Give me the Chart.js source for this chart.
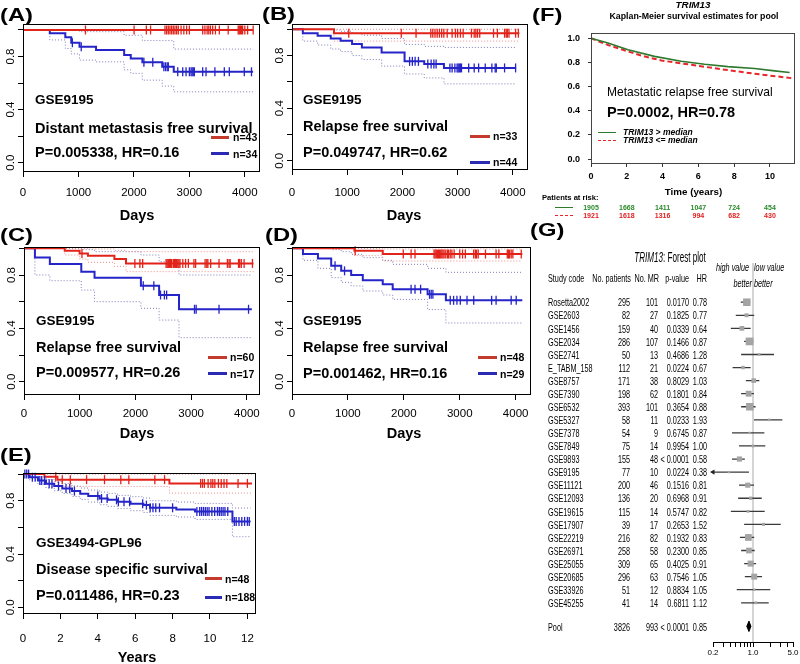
<!DOCTYPE html>
<html><head><meta charset="utf-8">
<script src="https://cdn.jsdelivr.net/npm/chart.js@4.4.1/dist/chart.umd.min.js"></script>
<style>
html,body{margin:0;padding:0;background:#fff;}
#wrap{position:relative;width:800px;height:664px;overflow:hidden;background:#fff;}
#wrap canvas{position:absolute;}
#txt{position:absolute;left:0;top:0;width:800px;height:664px;pointer-events:none;z-index:10;}
#txt div{position:absolute;white-space:nowrap;}
</style></head>
<body><div id="wrap"><div id="txt"></div></div>
<script>
// ================= DATA =================
const dayTicks = [0, 1000, 2000, 3000, 4000];
const yearTicksE = [0, 2, 4, 6, 8, 10, 12];
const survTicks = [0, 0.2, 0.4, 0.6, 0.8, 1.0];
const survLabelTicks = [0, 0.4, 0.8];

// Panel A (days)
const A_red_time  = [0, 4150];
const A_red_surv  = [1, 1];
const A_red_upper = [1, 1];
const A_red_lower = [1, 1];
const A_red_cens  = [1127, 2003, 2224, 2300, 2560, 2590, 2620, 2650, 2680, 2710, 2740, 2770, 2800, 2850, 2900, 2950, 3000, 3240, 3280, 3320, 3350, 3380, 3420, 3470, 3540, 3700, 3880, 3900, 3920, 3940, 3960, 4000, 4050, 4150];
const A_blue_time  = [0, 483, 763, 870, 1019, 1317, 1824, 1943, 2152, 2510, 2718, 4149];
const A_blue_surv  = [1, 0.975, 0.945, 0.904, 0.874, 0.849, 0.811, 0.786, 0.756, 0.723, 0.685, 0.685];
const A_blue_upper = [1, 1, 1, 1, 0.987, 0.987, 0.96, 0.96, 0.92, 0.92, 0.856, 0.856];
const A_blue_lower = [1, 0.925, 0.86, 0.82, 0.773, 0.76, 0.70, 0.673, 0.622, 0.577, 0.534, 0.534];
const A_blue_cens  = [890, 1050, 2180, 2340, 2540, 2570, 2600, 2620, 2790, 2880, 2940, 3000, 3030, 3050, 3070, 3090, 3240, 3300, 3460, 3630, 3720, 3990, 4120];

// Panel B (days)
const B_red_time  = [0, 761, 4119];
const B_red_surv  = [1, 0.97, 0.97];
const B_red_upper = [1, 1, 1];
const B_red_lower = [1, 0.91, 0.91];
const B_red_cens  = [1028, 1979, 2247, 2514, 2550, 2590, 2630, 2670, 2710, 2750, 2811, 2900, 2960, 3000, 3050, 3100, 3250, 3300, 3330, 3360, 3400, 3650, 3720, 3850, 3880, 3900, 3930, 4050, 4100];
const B_blue_time  = [0, 196, 464, 701, 880, 1088, 1266, 1623, 2039, 2395, 2752, 4059];
const B_blue_surv  = [1, 0.97, 0.95, 0.93, 0.912, 0.887, 0.862, 0.824, 0.756, 0.736, 0.706, 0.706];
const B_blue_upper = [1, 1, 1, 0.995, 0.985, 0.97, 0.955, 0.93, 0.885, 0.87, 0.862, 0.862];
const B_blue_lower = [1, 0.91, 0.88, 0.85, 0.83, 0.80, 0.77, 0.72, 0.66, 0.63, 0.585, 0.585];
const B_blue_cens  = [2130, 2180, 2230, 2290, 2460, 2520, 2570, 2610, 2860, 2900, 2950, 2990, 3010, 3030, 3050, 3070, 3200, 3300, 3380, 3500, 3620, 3680, 3700, 3850, 4050];

// Panel C (days)
const C_red_time  = [0, 731, 998, 1147, 1623, 1831, 4119];
const C_red_surv  = [1, 0.982, 0.962, 0.945, 0.92, 0.887, 0.887];
const C_red_upper = [1, 1, 1, 0.995, 0.985, 0.975, 0.975];
const C_red_lower = [1, 0.95, 0.92, 0.895, 0.865, 0.825, 0.825];
const C_red_cens  = [1040, 1990, 2080, 2130, 2550, 2570, 2590, 2610, 2630, 2650, 2680, 2700, 2720, 2740, 2760, 2780, 2800, 2850, 2900, 2950, 3050, 3080, 3250, 3280, 3300, 3350, 3500, 3650, 3680, 3700, 3850, 3870, 3900, 3950, 4100];
const C_blue_time  = [0, 196, 464, 1028, 1266, 2098, 2425, 2782, 4089];
const C_blue_surv  = [1, 0.932, 0.882, 0.825, 0.78, 0.72, 0.65, 0.543, 0.543];
const C_blue_upper = [1, 1, 1, 0.99, 0.975, 0.95, 0.90, 0.80, 0.80];
const C_blue_lower = [1, 0.80, 0.757, 0.687, 0.60, 0.55, 0.462, 0.33, 0.33];
const C_blue_cens  = [2140, 2330, 2450, 2520, 2560, 3060, 3090, 3500, 4030];

// Panel D (days)
const D_red_time  = [0, 1117, 1623, 4120];
const D_red_surv  = [1, 0.982, 0.957, 0.957];
const D_red_upper = [1, 1, 0.995, 0.995];
const D_red_lower = [1, 0.945, 0.905, 0.905];
const D_red_cens  = [1130, 1990, 2130, 2200, 2540, 2560, 2580, 2600, 2620, 2640, 2660, 2680, 2700, 2720, 2750, 2780, 2800, 2830, 2860, 2900, 3000, 3050, 3100, 3250, 3280, 3300, 3330, 3460, 3650, 3700, 3850, 3870, 3890, 3920, 3950, 4100];
const D_blue_time  = [0, 196, 464, 701, 880, 1058, 1266, 1623, 1801, 2425, 2752, 4119];
const D_blue_surv  = [1, 0.957, 0.924, 0.869, 0.831, 0.80, 0.76, 0.73, 0.693, 0.655, 0.61, 0.61];
const D_blue_upper = [1, 1, 1, 0.99, 0.975, 0.955, 0.93, 0.91, 0.88, 0.85, 0.82, 0.82];
const D_blue_lower = [1, 0.91, 0.85, 0.78, 0.745, 0.718, 0.68, 0.65, 0.617, 0.541, 0.44, 0.44];
const D_blue_cens  = [770, 940, 2130, 2200, 2300, 2460, 2490, 2520, 2830, 2890, 2950, 3010, 3130, 3250, 3570, 3650, 3920, 4010];

// Panel E (years)
const E_red_time  = [0, 1.15, 1.84, 7.83, 12.25];
const E_red_surv  = [1, 0.98, 0.958, 0.93, 0.93];
const E_red_upper = [1, 1, 1, 1, 1];
const E_red_lower = [1, 0.945, 0.907, 0.857, 0.857];
const E_red_cens  = [1.75, 2.1, 2.53, 3.4, 4.36, 5.23, 5.66, 7.05, 7.57, 9.5, 9.6, 9.7, 9.9, 10.05, 10.15, 10.26, 10.45, 10.6, 10.75, 10.9, 11.5, 12.0];
const E_blue_time  = [0, 0.36, 0.8, 1.23, 1.67, 2.1, 2.62, 3.06, 3.49, 4.1, 4.53, 5.05, 5.75, 6.44, 6.79, 8.2, 9.2, 11.2, 12.17];
const E_blue_surv  = [1, 0.977, 0.952, 0.927, 0.91, 0.892, 0.872, 0.852, 0.835, 0.817, 0.807, 0.792, 0.777, 0.767, 0.747, 0.735, 0.72, 0.645, 0.645];
const E_blue_upper = [1, 1, 0.98, 0.96, 0.945, 0.93, 0.91, 0.895, 0.88, 0.865, 0.855, 0.84, 0.83, 0.82, 0.80, 0.79, 0.78, 0.745, 0.745];
const E_blue_lower = [1, 0.955, 0.925, 0.895, 0.875, 0.855, 0.832, 0.81, 0.79, 0.77, 0.758, 0.742, 0.725, 0.712, 0.69, 0.678, 0.66, 0.53, 0.53];
const E_blue_cens  = [0.1, 0.2, 0.3, 0.5, 0.65, 0.9, 1.0, 1.15, 1.4, 1.55, 1.9, 2.3, 2.5, 2.75, 4.0, 4.2, 4.5, 5.0, 5.1, 5.4, 5.7, 6.4, 6.6, 6.8, 6.95, 7.1, 7.3, 8.0, 9.3, 9.45, 9.55, 9.65, 9.75, 9.85, 9.95, 10.1, 10.25, 10.4, 10.5, 10.6, 10.7, 10.8, 10.95, 11.3, 11.4, 11.55, 11.7, 11.85, 12.0, 12.1];

// Panel F (years, pooled)
const F_xTicks = [0, 2, 4, 6, 8, 10];
const F_green_time = [0, 0.95, 2.07, 3.55, 5.04, 6.35, 7.65, 9.14, 10.26, 11.1];
const F_green_surv = [1, 0.96, 0.904, 0.85, 0.81, 0.785, 0.765, 0.75, 0.73, 0.717];
const F_red_time   = [0, 0.95, 1.69, 2.81, 3.93, 5.42, 6.9, 8.2, 9.7, 11.2];
const F_red_surv   = [1, 0.944, 0.909, 0.856, 0.816, 0.784, 0.752, 0.725, 0.696, 0.67];
const F_riskGreen  = [1905, 1668, 1411, 1047, 724, 454];
const F_riskRed    = [1921, 1618, 1316, 994, 682, 430];

// Panel G (forest plot)
const fpStudy    = ['Rosetta2002','GSE2603','GSE1456','GSE2034','GSE2741','E_TABM_158','GSE8757','GSE7390','GSE6532','GSE5327','GSE7378','GSE7849','GSE9893','GSE9195','GSE11121','GSE12093','GSE19615','GSE17907','GSE22219','GSE26971','GSE25055','GSE20685','GSE33926','GSE45255'];
const fpPatients = [295, 82, 159, 286, 50, 112, 171, 198, 393, 58, 54, 75, 155, 77, 200, 136, 115, 39, 216, 258, 309, 296, 51, 41];
const fpMR       = [101, 27, 40, 107, 13, 21, 38, 62, 101, 11, 9, 14, 48, 10, 46, 20, 14, 17, 82, 58, 65, 63, 12, 14];
const fpP        = ['0.0170','0.1825','0.0339','0.1466','0.4686','0.0224','0.8029','0.1801','0.3654','0.0233','0.6745','0.9954','< 0.0001','0.0224','0.1516','0.6968','0.5747','0.2653','0.1932','0.2300','0.4025','0.7546','0.8834','0.6811'];
const fpHR       = [0.78, 0.77, 0.64, 0.87, 1.28, 0.67, 1.03, 0.84, 0.88, 1.93, 0.87, 1.00, 0.58, 0.38, 0.81, 0.91, 0.82, 1.52, 0.83, 0.85, 0.91, 1.05, 1.05, 1.12];
const fpLo       = [0.61, 0.50, 0.41, 0.70, 0.62, 0.44, 0.75, 0.62, 0.62, 1.04, 0.43, 0.57, 0.43, 0.15, 0.57, 0.55, 0.41, 0.70, 0.59, 0.62, 0.70, 0.72, 0.52, 0.62];
const fpHi       = [0.89, 1.05, 0.91, 1.01, 2.33, 0.91, 1.29, 1.04, 1.11, 3.26, 1.58, 1.64, 0.72, 0.85, 1.04, 1.42, 1.60, 3.05, 1.05, 1.07, 1.13, 1.44, 2.00, 1.88];
const fpPool     = {patients: 3826, mr: 993, p: '< 0.0001', hr: 0.85, lo: 0.78, hi: 0.92};
const fpTicks    = [0.2, 0.3, 0.4, 0.5, 0.6, 0.7, 0.8, 0.9, 1, 2, 3, 4, 5];
const fpTickLabels = {0.2: '0.2', 1: '1.0', 5: '5.0'};

// ================= HELPERS =================
const FONT = "'Liberation Sans', Arial, Helvetica, sans-serif";
function hasFont(f) {
  const c = document.createElement('canvas').getContext('2d');
  const s = 'abcdefghij 0123456789';
  c.font = '40px monospace'; const a = c.measureText(s).width;
  c.font = "40px '" + f + "', monospace"; const b = c.measureText(s).width;
  return Math.abs(a - b) > 0.5;
}
const NARROW = hasFont('Liberation Sans Narrow');
const NFAM = NARROW ? "'Liberation Sans Narrow', 'Liberation Sans', Arial, sans-serif" : FONT;
const NW = NARROW ? 0.82 : 1;
Chart.defaults.font.family = FONT;

const RED = '#e2231a', BLUE = '#2424c8', RED_CI = '#ee8a8a', BLUE_CI = '#7c7cb8';
const RED_LEG = '#c43a2c', BLUE_LEG = '#2a2ab4';

const wrap = document.getElementById('wrap');
const layer = document.getElementById('txt');

function T(x, y, s, o = {}) {
  const size = o.size || 12;
  const d = document.createElement('div');
  if (o.html) d.innerHTML = s; else d.textContent = s;
  let sx = o.sx || 1;
  if (o.narrow) sx = sx / NW;
  const al = o.align || 'left';
  d.style.fontFamily = o.narrow ? NFAM : FONT;
  d.style.fontSize = size + 'px';
  d.style.lineHeight = size + 'px';
  d.style.fontWeight = o.bold ? 'bold' : 'normal';
  d.style.fontStyle = o.italic ? 'italic' : 'normal';
  d.style.color = o.color || '#000';
  d.style.left = x + 'px';
  d.style.top = (y - 0.8465 * size) + 'px';
  const pre = al === 'right' ? 'translateX(-100%) ' : al === 'center' ? 'translateX(-50%) ' : '';
  d.style.transformOrigin = al === 'right' ? '100% 50%' : al === 'center' ? '50% 50%' : '0 50%';
  d.style.transform = pre + 'scaleX(' + sx + ')';
  layer.appendChild(d);
}
function L(x1, x2, y, color, w, dash) {
  const d = document.createElement('div');
  d.style.cssText = 'position:absolute;left:' + x1 + 'px;top:' + (y - w / 2) + 'px;width:' + (x2 - x1) + 'px;height:0;border-top:' + w + 'px ' + (dash ? 'dashed' : 'solid') + ' ' + color + ';';
  layer.appendChild(d);
}
function mkCanvas(l, t, w, h) {
  const c = document.createElement('canvas');
  c.width = w; c.height = h;
  c.style.left = l + 'px'; c.style.top = t + 'px';
  c.style.width = w + 'px'; c.style.height = h + 'px';
  wrap.insertBefore(c, layer);
  return c;
}
const xy = (xs, ys) => xs.map((x, i) => ({x: x, y: ys[i]}));
function stepAt(times, surv, t) {
  let v = surv[0];
  for (let i = 0; i < times.length; i++) if (times[i] <= t) v = surv[i];
  return v;
}

const boxPlugin = {
  id: 'box',
  afterDraw(ch, args, opts) {
    const a = ch.chartArea, c = ch.ctx;
    c.save();
    c.strokeStyle = opts.color || '#000';
    c.lineWidth = 1;
    c.strokeRect(Math.round(a.left) + 0.5, Math.round(a.top) + 0.5, Math.round(a.right - a.left) - 1, Math.round(a.bottom - a.top) - 1);
    if (opts.yLabels) {
      c.fillStyle = '#000';
      c.font = (NARROW ? '12.5px ' : '11.5px ') + NFAM;
      c.textAlign = 'center'; c.textBaseline = 'middle';
      for (const v of opts.yLabels) {
        const y = ch.scales.y.getPixelForValue(v);
        c.save(); c.translate(a.left - 12, y); c.rotate(-Math.PI / 2);
        c.fillText(v.toFixed(1), 0, 0); c.restore();
      }
    }
    c.restore();
  }
};

function kmPanel(p) {
  const [bl, bt, br, bb] = p.box;
  const cl = bl - 24, ct = bt - 8, cr = br + 5, cb = bb + 42;
  const W = cr - cl, H = cb - ct;
  const padT = bt - ct, padR = cr - br, padL = bl - cl, padB = cb - bb;
  const cv = mkCanvas(cl, ct, W, H);
  const ds = [];
  p.groups.forEach(g => ds.push({
    data: g.cens.map(t => ({x: t, y: stepAt(g.time, g.surv, t)})),
    showLine: false, pointStyle: 'line', pointRotation: 90, pointRadius: 4.5,
    pointBorderWidth: 1.3, pointBorderColor: g.color, pointBackgroundColor: g.color, clip: false
  }));
  p.groups.forEach(g => ds.push({
    data: xy(g.time, g.surv), stepped: true, borderColor: g.color, borderWidth: 2,
    pointRadius: 0, fill: false, clip: 3
  }));
  p.groups.forEach(g => {
    ds.push({data: xy(g.time, g.upper), stepped: true, borderColor: g.ci, borderWidth: 1, borderDash: [1, 2], pointRadius: 0, fill: false});
    ds.push({data: xy(g.time, g.lower), stepped: true, borderColor: g.ci, borderWidth: 1, borderDash: [1, 2], pointRadius: 0, fill: false});
  });
  const tickFont = {family: NFAM, size: NARROW ? 12.5 : 11.5};
  return new Chart(cv, {
    type: 'line',
    data: {datasets: ds},
    options: {
      responsive: false, animation: false, events: [], devicePixelRatio: 1,
      layout: {padding: {left: 0, top: padT, right: padR, bottom: 0}},
      plugins: {legend: {display: false}, tooltip: {enabled: false}, box: {yLabels: survLabelTicks}},
      scales: {
        x: {
          type: 'linear', min: 0, max: p.xmax,
          afterBuildTicks: s => { s.ticks = p.xticks.map(v => ({value: v})); },
          afterFit: s => { s.height = padB; },
          ticks: {font: tickFont, color: '#000', padding: p.xpad, maxRotation: 0, minRotation: 0, autoSkip: false, callback: v => String(v)},
          grid: {drawOnChartArea: false, drawTicks: true, tickLength: 5, color: '#000', lineWidth: 1},
          border: {display: false}
        },
        y: {
          type: 'linear', min: p.ymin, max: p.ymax,
          afterBuildTicks: s => { s.ticks = survTicks.map(v => ({value: v})); },
          afterFit: s => { s.width = padL; },
          ticks: {display: false},
          grid: {drawOnChartArea: false, drawTicks: true, tickLength: 5, color: '#000', lineWidth: 1},
          border: {display: false}
        }
      }
    },
    plugins: [boxPlugin]
  });
}

function grp(time, surv, upper, lower, cens, color, ci) {
  return {time, surv, upper, lower, cens, color, ci};
}

// ================= PANELS A-E =================
kmPanel({box: [23, 24, 262, 172], ymin: -0.07, ymax: 1.045, xmax: 4270, xticks: dayTicks, xpad: 9,
  groups: [grp(A_red_time, A_red_surv, A_red_upper, A_red_lower, A_red_cens, RED, RED_CI),
           grp(A_blue_time, A_blue_surv, A_blue_upper, A_blue_lower, A_blue_cens, BLUE, BLUE_CI)]});
kmPanel({box: [292, 24, 532, 170], ymin: -0.07, ymax: 1.04, xmax: 4267, xticks: dayTicks, xpad: 11,
  groups: [grp(B_red_time, B_red_surv, B_red_upper, B_red_lower, B_red_cens, RED, RED_CI),
           grp(B_blue_time, B_blue_surv, B_blue_upper, B_blue_lower, B_blue_cens, BLUE, BLUE_CI)]});
kmPanel({box: [24, 247, 262, 395], ymin: -0.1, ymax: 1.01, xmax: 4244, xticks: dayTicks, xpad: 7,
  groups: [grp(C_red_time, C_red_surv, C_red_upper, C_red_lower, C_red_cens, RED, RED_CI),
           grp(C_blue_time, C_blue_surv, C_blue_upper, C_blue_lower, C_blue_cens, BLUE, BLUE_CI)]});
kmPanel({box: [292, 247, 532, 395], ymin: -0.1, ymax: 1.01, xmax: 4278, xticks: dayTicks, xpad: 7,
  groups: [grp(D_red_time, D_red_surv, D_red_upper, D_red_lower, D_red_cens, RED, RED_CI),
           grp(D_blue_time, D_blue_surv, D_blue_upper, D_blue_lower, D_blue_cens, BLUE, BLUE_CI)]});
kmPanel({box: [23, 473, 262, 614], ymin: -0.05, ymax: 1.008, xmax: 12.45, xticks: yearTicksE, xpad: 13,
  groups: [grp(E_red_time, E_red_surv, E_red_upper, E_red_lower, E_red_cens, RED, RED_CI),
           grp(E_blue_time, E_blue_surv, E_blue_upper, E_blue_lower, E_blue_cens, BLUE, BLUE_CI)]});

// ================= PANEL F =================
const F_left = 535, F_top = 20;
const cvF = mkCanvas(F_left, F_top, 265, 170);
const chF = new Chart(cvF, {
  type: 'line',
  data: {datasets: [
    {data: xy(F_green_time, F_green_surv), borderColor: '#2e7a2e', borderWidth: 1.6, pointRadius: 0, tension: 0, fill: false},
    {data: xy(F_red_time, F_red_surv), borderColor: '#e8262a', borderWidth: 2, borderDash: [5, 3], pointRadius: 0, tension: 0, fill: false}
  ]},
  options: {
    responsive: false, animation: false, events: [], devicePixelRatio: 1,
    layout: {padding: {left: 0, top: 9, right: 5, bottom: 0}},
    plugins: {legend: {display: false}, tooltip: {enabled: false}, box: {color: '#444'}},
    scales: {
      x: {type: 'linear', min: 0, max: 11.4,
        afterBuildTicks: s => { s.ticks = F_xTicks.map(v => ({value: v})); },
        afterFit: s => { s.height = 26; },
        ticks: {font: {family: FONT, size: 9, weight: 'bold'}, color: '#000', padding: 4, maxRotation: 0, autoSkip: false, callback: v => String(v)},
        grid: {drawOnChartArea: false, drawTicks: true, tickLength: 3, color: '#333'},
        border: {display: false}},
      y: {type: 'linear', min: -0.04, max: 1.04,
        afterBuildTicks: s => { s.ticks = survTicks.map(v => ({value: v})); },
        afterFit: s => { s.width = 56; },
        ticks: {font: {family: FONT, size: 9, weight: 'bold'}, color: '#000', padding: 8, callback: v => Number(v).toFixed(1)},
        grid: {drawOnChartArea: false, drawTicks: true, tickLength: 3, color: '#333'},
        border: {display: false}}
    }
  },
  plugins: [boxPlugin]
});

// ================= PANEL G =================
const G_left = 700, G_top = 255;
const cvG = mkCanvas(G_left, G_top, 100, 409);
const poolRow = 24.8;
const ciSeg = [];
fpLo.forEach((lo, i) => { ciSeg.push({x: lo, y: i}, {x: fpHi[i], y: i}, {x: 1, y: null}); });
const arrowIdx = fpLo.map((v, i) => v < 0.2 ? i : -1).filter(i => i >= 0);
new Chart(cvG, {
  type: 'line',
  data: {datasets: [
    {data: arrowIdx.map(i => ({x: 0.2, y: i})), showLine: false, pointStyle: 'triangle', pointRotation: -90,
     pointRadius: 3, pointBackgroundColor: '#222', pointBorderColor: '#222', pointBorderWidth: 0, clip: false},
    {data: [{x: fpPool.lo, y: poolRow}, {x: fpPool.hr, y: poolRow - 0.4}, {x: fpPool.hi, y: poolRow}, {x: fpPool.hr, y: poolRow + 0.4}, {x: fpPool.lo, y: poolRow}],
     borderColor: '#000', borderWidth: 1, backgroundColor: '#000', fill: 'shape', pointRadius: 0, tension: 0},
    {data: fpHR.map((h, i) => ({x: h, y: i})), showLine: false, pointStyle: 'rect',
     pointRadius: fpMR.map(m => 0.53 * Math.sqrt(m)), pointBackgroundColor: '#a4a4a4', pointBorderWidth: 0, pointBorderColor: '#a4a4a4'},
    {data: ciSeg, borderColor: '#3a3a3a', borderWidth: 1.3, pointRadius: 0, spanGaps: false, fill: false},
    {data: [{x: 1, y: -3}, {x: 1, y: 26}], borderColor: '#cfcfcf', borderWidth: 1, pointRadius: 0, fill: false}
  ]},
  options: {
    responsive: false, animation: false, events: [], devicePixelRatio: 1,
    layout: {padding: {left: 13, top: 8, right: 7, bottom: 0}},
    plugins: {legend: {display: false}, tooltip: {enabled: false}},
    scales: {
      x: {type: 'logarithmic', min: 0.2, max: 5,
        afterBuildTicks: s => { s.ticks = fpTicks.map(v => ({value: v})); },
        afterFit: s => { s.height = 22; },
        ticks: {font: {family: FONT, size: 8}, color: '#000', padding: 1, maxRotation: 0, autoSkip: false,
          callback: v => { const k = Object.keys(fpTickLabels).find(q => Math.abs(Number(q) - v) < 1e-6); return k ? fpTickLabels[k] : ''; }},
        grid: {drawOnChartArea: false, drawTicks: true, tickLength: 5, color: '#000'},
        border: {display: true, color: '#000', width: 1}},
      y: {type: 'linear', min: -3, max: 26, reverse: true, display: false}
    }
  }
});

// ================= TEXT =================
const pl = {size: 19, bold: true, sx: 1.25};
T(0, 21, '(A)', pl); T(262, 20, '(B)', pl); T(0, 241, '(C)', pl); T(265, 241, '(D)', pl);
T(0, 461, '(E)', pl); T(532, 21, '(F)', pl); T(530, 236, '(G)', pl);

const g1 = {size: 13.5, bold: true}, g2 = {size: 14.5, bold: true}, nl = {size: 10.5, bold: true};
// A
T(35, 104, 'GSE9195', g1); T(35, 133, 'Distant metastasis free survival', g2); T(35, 157, 'P=0.005338, HR=0.16', g2);
L(211, 229, 137, RED_LEG, 3); T(233, 141, 'n=43', nl); L(211, 229, 153, BLUE_LEG, 3); T(233, 158, 'n=34', nl);
T(137, 220, 'Days', {size: 14.5, bold: true, align: 'center'});
// B
T(303, 104, 'GSE9195', g1); T(303, 131, 'Relapse free survival', g2); T(303, 157, 'P=0.049747, HR=0.62', g2);
L(470, 490, 136, RED_LEG, 3); T(493, 140, 'n=33', nl); L(470, 490, 162, BLUE_LEG, 3); T(493, 166, 'n=44', nl);
T(404, 220, 'Days', {size: 14.5, bold: true, align: 'center'});
// C
T(36, 325, 'GSE9195', g1); T(36, 352, 'Relapse free survival', g2); T(36, 377, 'P=0.009577, HR=0.26', g2);
L(208, 227, 357, RED_LEG, 3); T(230, 361, 'n=60', nl); L(208, 227, 373, BLUE_LEG, 3); T(230, 378, 'n=17', nl);
T(137, 438, 'Days', {size: 14.5, bold: true, align: 'center'});
// D
T(303, 325, 'GSE9195', g1); T(303, 352, 'Relapse free survival', g2); T(303, 378, 'P=0.001462, HR=0.16', g2);
L(478, 497, 357, RED_LEG, 3); T(500, 361, 'n=48', nl); L(478, 497, 373, BLUE_LEG, 3); T(500, 378, 'n=29', nl);
T(404, 438, 'Days', {size: 14.5, bold: true, align: 'center'});
// E
T(36, 547, 'GSE3494-GPL96', g1); T(36, 574, 'Disease specific survival', g2); T(36, 600, 'P=0.011486, HR=0.23', g2);
L(205, 222, 578, RED_LEG, 3); T(225, 583, 'n=48', nl); L(205, 222, 597, BLUE_LEG, 3); T(225, 601, 'n=188', nl);
T(137, 662, 'Years', {size: 14.5, bold: true, align: 'center'});

// F
T(693, 8.5, 'TRIM13', {size: 9.8, bold: true, italic: true, align: 'center'});
T(694, 19.5, 'Kaplan-Meier survival estimates for pool', {size: 8.8, bold: true, align: 'center'});
T(607, 96, 'Metastatic relapse free survival', {size: 13.5, sx: 0.89});
T(607, 117, 'P=0.0002, HR=0.78', {size: 14.5, bold: true});
L(598, 616, 132.7, '#2e7a2e', 1.3); T(623, 135.5, 'TRIM13 > median', {size: 8.5, bold: true, italic: true});
L(598, 616, 140.7, '#e8262a', 1.5, true); T(623, 143.5, 'TRIM13 <= median', {size: 8.5, bold: true, italic: true});
T(693.5, 195, 'Time (years)', {size: 9.8, bold: true, align: 'center'});
T(542, 200.5, 'Patients at risk:', {size: 7.6, bold: true});
L(555, 573, 207.3, '#2e7a2e', 1.2); L(555, 573, 215.3, '#e8262a', 1.4, true);
F_xTicks.forEach((t, i) => {
  const px = chF.scales.x.getPixelForValue(t) + F_left;
  T(px, 209.5, String(F_riskGreen[i]), {size: 7, bold: true, align: 'center', color: '#2b8a2b'});
  T(px, 217.5, String(F_riskRed[i]), {size: 7, bold: true, align: 'center', color: '#e02020'});
});

// G table
const tb = {size: 11, sx: 0.66};
T(670, 262, '<i>TRIM13</i>: Forest plot', {size: 15, sx: 0.54, html: true, align: 'center'});
T(548, 282, 'Study code', tb);
T(631, 282, 'No. patients', Object.assign({align: 'right'}, tb));
T(659, 282, 'No. MR', Object.assign({align: 'right'}, tb));
T(689, 282, 'p-value', Object.assign({align: 'right'}, tb));
T(707, 282, 'HR', Object.assign({align: 'right'}, tb));
T(749, 271, 'high value', Object.assign({align: 'right', italic: true}, tb));
T(752, 287, 'better', Object.assign({align: 'right', italic: true}, tb));
T(754, 271, 'low value', Object.assign({italic: true}, tb));
T(754, 287, 'better', Object.assign({italic: true}, tb));
const rowY = i => 302.2 + 13.07 * i + 4.5;
fpStudy.forEach((s, i) => {
  const y = rowY(i);
  T(548, y, s, tb);
  T(630, y, String(fpPatients[i]), Object.assign({align: 'right'}, tb));
  T(658, y, String(fpMR[i]), Object.assign({align: 'right'}, tb));
  T(689, y, fpP[i], Object.assign({align: 'right'}, tb));
  T(707, y, fpHR[i].toFixed(2), Object.assign({align: 'right'}, tb));
});
const py = rowY(poolRow);
T(548, py, 'Pool', tb);
T(630, py, String(fpPool.patients), Object.assign({align: 'right'}, tb));
T(658, py, String(fpPool.mr), Object.assign({align: 'right'}, tb));
T(689, py, fpPool.p, Object.assign({align: 'right'}, tb));
T(707, py, fpPool.hr.toFixed(2), Object.assign({align: 'right'}, tb));
</script>
</body></html>
